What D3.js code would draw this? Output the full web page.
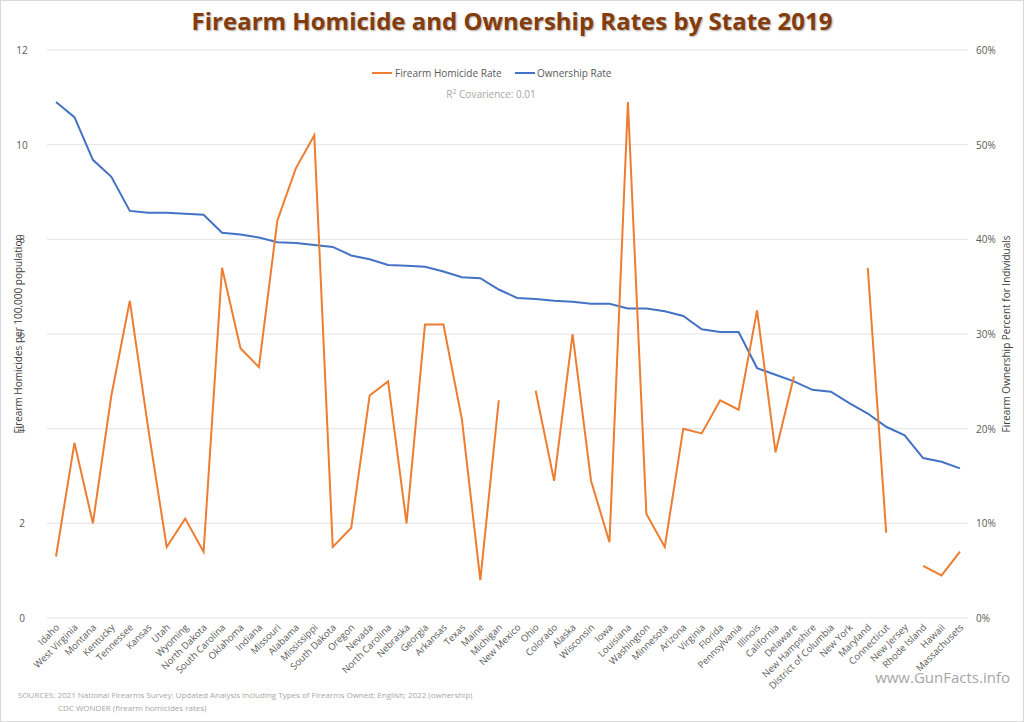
<!DOCTYPE html><html><head><meta charset="utf-8"><script src="https://cdn.jsdelivr.net/npm/d3@7"></script>
<style>body{margin:0;background:#fff}text{font-family:"Open Sans","Liberation Sans",sans-serif}</style></head><body><svg id="c" width="1024" height="722"></svg><script>
const states=["Idaho","West Virginia","Montana","Kentucky","Tennessee","Kansas","Utah","Wyoming","North Dakota","South Carolina","Oklahoma","Indiana","Missouri","Alabama","Mississippi","South Dakota","Oregon","Nevada","North Carolina","Nebraska","Georgia","Arkansas","Texas","Maine","Michigan","New Mexico","Ohio","Colorado","Alaska","Wisconsin","Iowa","Louisiana","Washington","Minnesota","Arizona","Virginia","Florida","Pennsylvania","Illinois","California","Delaware","New Hampshire","District of Columbia","New York","Maryland","Connecticut","New Jersey","Rhode Island","Hawaii","Massachusets"];
const homicide=[1.3,3.7,2.0,4.7,6.7,4.0,1.5,2.1,1.4,7.4,5.7,5.3,8.4,9.5,10.2,1.5,1.9,4.7,5.0,2.0,6.2,6.2,4.2,0.8,4.6,null,4.8,2.9,6.0,2.9,1.6,10.9,2.2,1.5,4.0,3.9,4.6,4.4,6.5,3.5,5.1,null,null,null,7.4,1.8,null,1.1,0.9,1.4];
const ownership=[54.5,52.9,48.4,46.6,43.0,42.8,42.8,42.7,42.6,40.7,40.5,40.2,39.7,39.6,39.4,39.2,38.3,37.9,37.3,37.2,37.1,36.6,36.0,35.9,34.7,33.8,33.7,33.5,33.4,33.2,33.2,32.7,32.7,32.4,31.9,30.5,30.2,30.2,26.4,25.7,25.0,24.1,23.9,22.7,21.6,20.2,19.3,16.9,16.5,15.8];
const leftTicks=[0,2,4,6,8,10,12];
const rightTicks=[0,10,20,30,40,50,60];
const svg=d3.select("#c");
svg.append("rect").attr("x",0.5).attr("y",0.5).attr("width",1023).attr("height",721).attr("fill","#fff").attr("stroke","#d9d9d9");
const x=d3.scalePoint().domain(states).range([56,960]);
const y=d3.scaleLinear().domain([0,12]).range([618,50]);
const y2=d3.scaleLinear().domain([0,60]).range([618,50]);
const g=svg.append("g");
leftTicks.forEach(t=>{g.append("line").attr("x1",47).attr("x2",968).attr("y1",y(t)).attr("y2",y(t)).attr("stroke","#e3e3e3");
g.append("text").attr("x",22).attr("y",y(t)+4).attr("text-anchor","middle").attr("font-size",10).attr("fill","#595959").text(t);});
rightTicks.forEach(t=>g.append("text").attr("x",976).attr("y",y2(t)+4).attr("font-size",10).attr("fill","#595959").text(t+"%"));
states.forEach(s=>g.append("text").attr("transform",`translate(${x(s)+4},${628}) rotate(-45)`).attr("text-anchor","end").attr("font-size",9.5).attr("fill","#595959").text(s));
g.append("path").datum(ownership).attr("fill","none").attr("stroke","#4472C4").attr("stroke-width",2)
 .attr("d",d3.line().x((d,i)=>x(states[i])).y(d=>y2(d)));
g.append("path").datum(homicide).attr("fill","none").attr("stroke","#ED7D31").attr("stroke-width",2)
 .attr("d",d3.line().defined(d=>d!=null).x((d,i)=>x(states[i])).y(d=>y(d)));
svg.append("text").attr("x",512).attr("y",30).attr("text-anchor","middle").attr("font-size",24).attr("font-weight","bold").attr("fill","#843c0c").style("text-shadow","1px 1px 2px #aaa").text("Firearm Homicide and Ownership Rates by State 2019");
const lg=svg.append("g");
lg.append("line").attr("x1",372).attr("x2",392).attr("y1",73).attr("y2",73).attr("stroke","#ED7D31").attr("stroke-width",2);
lg.append("text").attr("x",395).attr("y",77).attr("font-size",10).attr("fill","#595959").text("Firearm Homicide Rate");
lg.append("line").attr("x1",515).attr("x2",535).attr("y1",73).attr("y2",73).attr("stroke","#4472C4").attr("stroke-width",2);
lg.append("text").attr("x",537).attr("y",77).attr("font-size",10).attr("fill","#595959").text("Ownership Rate");
const r=svg.append("text").attr("x",491).attr("y",98).attr("text-anchor","middle").attr("font-size",10).attr("fill","#a6a6a6");
r.append("tspan").text("R");r.append("tspan").attr("font-size",7).attr("dy",-4).text("2");r.append("tspan").attr("dy",4).text(" Covarience: 0.01");
svg.append("text").attr("transform","translate(22,334) rotate(-90)").attr("text-anchor","middle").attr("font-size",10).attr("fill","#404040").text("Firearm Homicides per 100,000 population");
svg.append("text").attr("transform","translate(1010,334) rotate(-90)").attr("text-anchor","middle").attr("font-size",10).attr("fill","#404040").text("Firearm Ownership Percent for Individuals");
svg.append("text").attr("x",18).attr("y",698).attr("font-size",8).attr("fill","#a6a6a6").text("SOURCES: 2021  National Firearms Survey: Updated Analysis Including Types of Firearms Owned; English; 2022 (ownership)");
svg.append("text").attr("x",58).attr("y",711).attr("font-size",8).attr("fill","#a6a6a6").text("CDC WONDER (firearm homicides rates)");
svg.append("text").attr("x",1010).attr("y",683).attr("text-anchor","end").attr("font-size",15).attr("fill","#a6a6a6").text("www.GunFacts.info");
</script></body></html>
